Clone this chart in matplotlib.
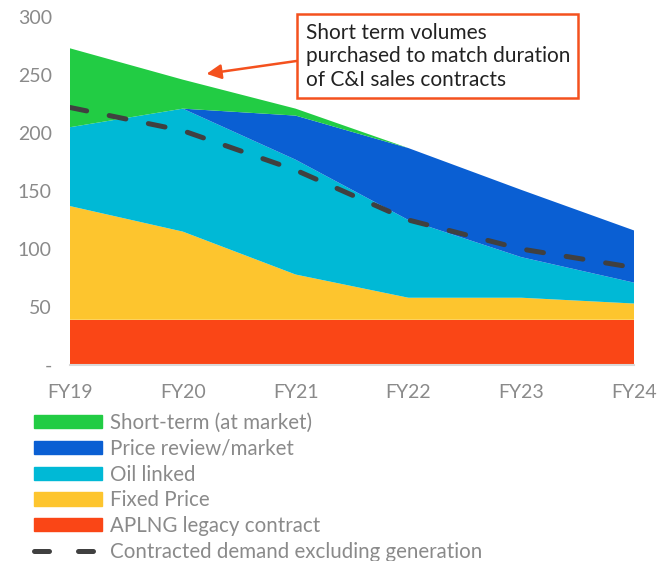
import matplotlib
matplotlib.use('Agg')
import matplotlib.pyplot as plt
from matplotlib.patches import Patch
from matplotlib.lines import Line2D

# --- data ---
years = ['FY19', 'FY20', 'FY21', 'FY22', 'FY23', 'FY24']
aplng = [39, 39, 39, 39, 39, 39]
fixed_price = [98, 76, 39, 19, 19, 14]
oil_linked = [68, 106, 99, 67, 35, 18]
price_review = [0, 0, 38, 62, 58, 45]
short_term = [68, 25, 6, 0, 0, 0]
contracted_demand = [222, 202, 168, 125, 100, 84]

# --- style ---
C_APLNG = '#fa4616'
C_FIXED = '#fdc52e'
C_OIL = '#00b9d6'
C_REVIEW = '#0a5fd3'
C_SHORT = '#22cc44'
C_LINE = '#404040'
C_TICK = '#8a8a8a'
C_BOX = '#f4511e'
FONT = 'Lato'

plt.rcParams['font.family'] = [FONT, 'DejaVu Sans']

W, H = 661, 561
fig = plt.figure(figsize=(W / 100, H / 100), dpi=100)
ax = fig.add_axes([70 / W, (H - 365) / H, 564 / W, 348 / H])

x = list(range(len(years)))
ax.stackplot(x, aplng, fixed_price, oil_linked, price_review, short_term,
             colors=[C_APLNG, C_FIXED, C_OIL, C_REVIEW, C_SHORT], linewidth=0)
ax.plot(x, contracted_demand, color=C_LINE, lw=3.6, dashes=(3.4, 4.6),
        dash_capstyle='round')

ax.set_xlim(0, 5)
ax.set_ylim(0, 300)
ax.set_xticks(x)
ax.set_xticklabels(years)
ax.set_yticks([0, 50, 100, 150, 200, 250, 300])
ax.set_yticklabels(['-', '50', '100', '150', '200', '250', '300'])
ax.tick_params(length=0, labelsize=14, colors=C_TICK)
ax.tick_params(axis='x', pad=14)
ax.tick_params(axis='y', pad=13)
for s in ['top', 'right', 'left']:
    ax.spines[s].set_visible(False)
ax.spines['bottom'].set_color('#d9d9d9')
ax.spines['bottom'].set_linewidth(1.5)

# annotation box + arrow
ax.annotate('Short term volumes\npurchased to match duration\nof C&I sales contracts',
            xy=(1.21, 251), xytext=(2.09, 295), textcoords='data',
            fontsize=15, color='#222222', va='top', ha='left',
            linespacing=1.22,
            bbox=dict(boxstyle='square,pad=0.4', fc='white', ec=C_BOX, lw=1.8),
            arrowprops=dict(arrowstyle='-|>', color=C_BOX, lw=1.8,
                            mutation_scale=22, shrinkA=0, shrinkB=0,
                            relpos=(0, 0.45)))

# legend
handles = [
    Patch(color=C_SHORT, label='Short-term (at market)'),
    Patch(color=C_REVIEW, label='Price review/market'),
    Patch(color=C_OIL, label='Oil linked'),
    Patch(color=C_FIXED, label='Fixed Price'),
    Patch(color=C_APLNG, label='APLNG legacy contract'),
    Line2D([], [], color=C_LINE, lw=3.6, dashes=(3.0, 5.8), dash_capstyle='round',
           label='Contracted demand excluding generation'),
]
fig.legend(handles=handles, loc='upper left', bbox_to_anchor=(34 / W, 1 - 413 / H),
           frameon=False, fontsize=14.8, labelcolor=C_TICK,
           handlelength=3.3, handleheight=0.6, handletextpad=0.4,
           labelspacing=0.28, borderpad=0, borderaxespad=0)

fig.savefig('out.png', dpi=100)
